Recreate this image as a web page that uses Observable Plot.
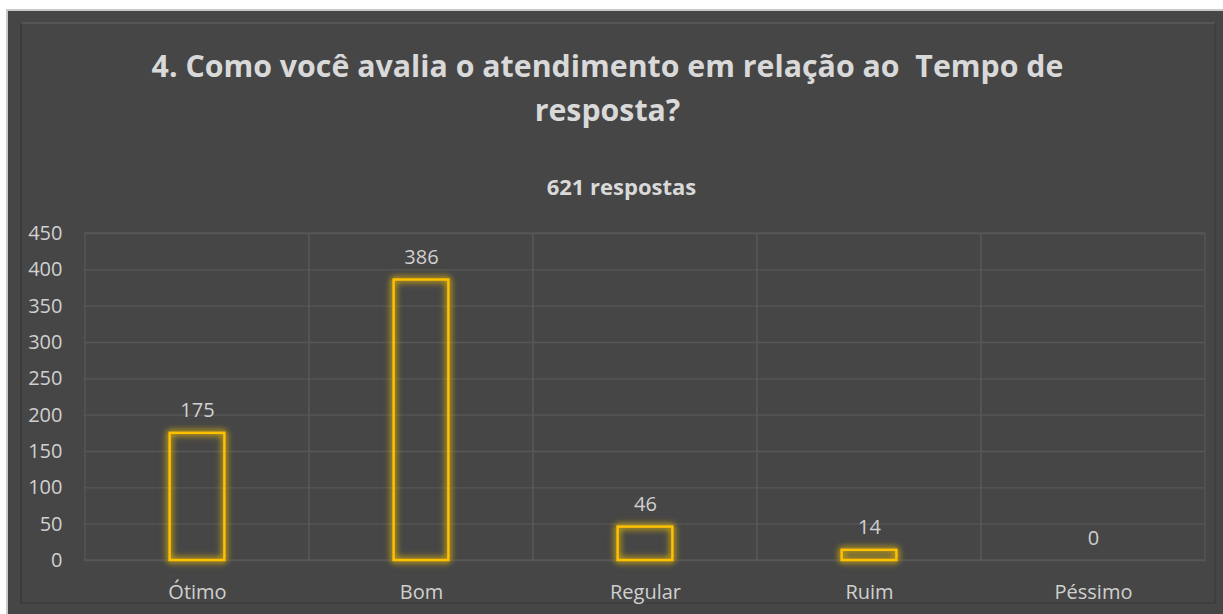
<!DOCTYPE html>
<html><head><meta charset="utf-8">
<script src="https://cdn.jsdelivr.net/npm/d3@7"></script>
<script src="https://cdn.jsdelivr.net/npm/@observablehq/plot@0.6"></script>
<style>
html,body{margin:0;padding:0;background:#fff;}
#page{position:relative;width:1223px;height:614px;overflow:hidden;background:#fff;}
#outer{position:absolute;left:6px;top:9px;width:1217px;height:605px;background:#464646;border-left:2px solid #c9c9c9;border-top:2px solid #c9c9c9;box-sizing:border-box;}
#inner{position:absolute;left:20px;top:22px;width:1196px;height:582px;border:2px solid #3e3e3e;border-top-color:#555;border-left-color:#3b3b3b;box-sizing:border-box;}
.title{position:absolute;width:1223px;text-align:center;font-family:"Open Sans",sans-serif;font-weight:700;color:#d9d9d9;}
#t1{left:-4px;top:44px;font-size:30.3px;line-height:44px;}
#t2{left:-4px;top:88px;font-size:30.3px;line-height:44px;}
#sub{left:10px;top:172px;font-size:22px;line-height:28px;}
#chart{position:absolute;left:0;top:215px;}
</style></head>
<body><div id="page"><div id="outer"></div><div id="inner"></div>
<div class="title" id="t1">4. Como você avalia o atendimento em relação ao&nbsp; Tempo de</div>
<div class="title" id="t2">resposta?</div>
<div class="title" id="sub">621 respostas</div>
<div id="chart"></div></div>
<script>
const categories = ["Ótimo", "Bom", "Regular", "Ruim", "Péssimo"];
const values = [175, 386, 46, 14, 0];
const yTicks = [0, 50, 100, 150, 200, 250, 300, 350, 400, 450];
const data = categories.map((c, i) => ({category: c, value: values[i]}));

const W = 1223, H = 395, mL = 84, mR = 18, mT = 18, mB = 50;
const band = (W - mL - mR) / categories.length;
const barInset = band * (1 - 0.245) / 2;
const txt = "#d0d0d0", grid = "#575757";

const svg = Plot.plot({
  width: W, height: H,
  marginLeft: mL, marginRight: mR, marginTop: mT, marginBottom: mB,
  style: {background: "transparent", color: txt, fontFamily: "'Open Sans', sans-serif", fontSize: "20px"},
  x: {domain: categories, padding: 0, label: null, tickSize: 0, tickPadding: 24},
  y: {domain: [0, 450], ticks: yTicks, label: null, tickSize: 0, tickPadding: 22},
  marks: [
    Plot.ruleY(yTicks, {stroke: grid, strokeWidth: 1.3}),
    Plot.barY(data, {x: "category", y1: 0, y2: 450, fill: "none", stroke: grid, strokeWidth: 1.3, inset: 0}),
    Plot.barY(data, {x: "category", y: "value", fill: "none", stroke: "#FFC000", strokeWidth: 2.5,
      insetLeft: barInset, insetRight: barInset}),
    Plot.text(data, {x: "category", y: "value", text: d => String(d.value), lineAnchor: "bottom", dy: -16,
      fill: txt, fontSize: 20})
  ]
});
d3.select(svg).selectAll("g[aria-label='bar']").filter((d, i) => i === 1)
  .style("filter", "drop-shadow(0 0 3px rgba(255,205,0,0.85)) drop-shadow(0 0 3px rgba(230,190,0,0.6))");
d3.select(svg).selectAll("g[aria-label='x-axis tick label'] text, g[aria-label='y-axis tick label'] text").attr("fill", txt);
document.getElementById("chart").appendChild(svg);
</script></body></html>
